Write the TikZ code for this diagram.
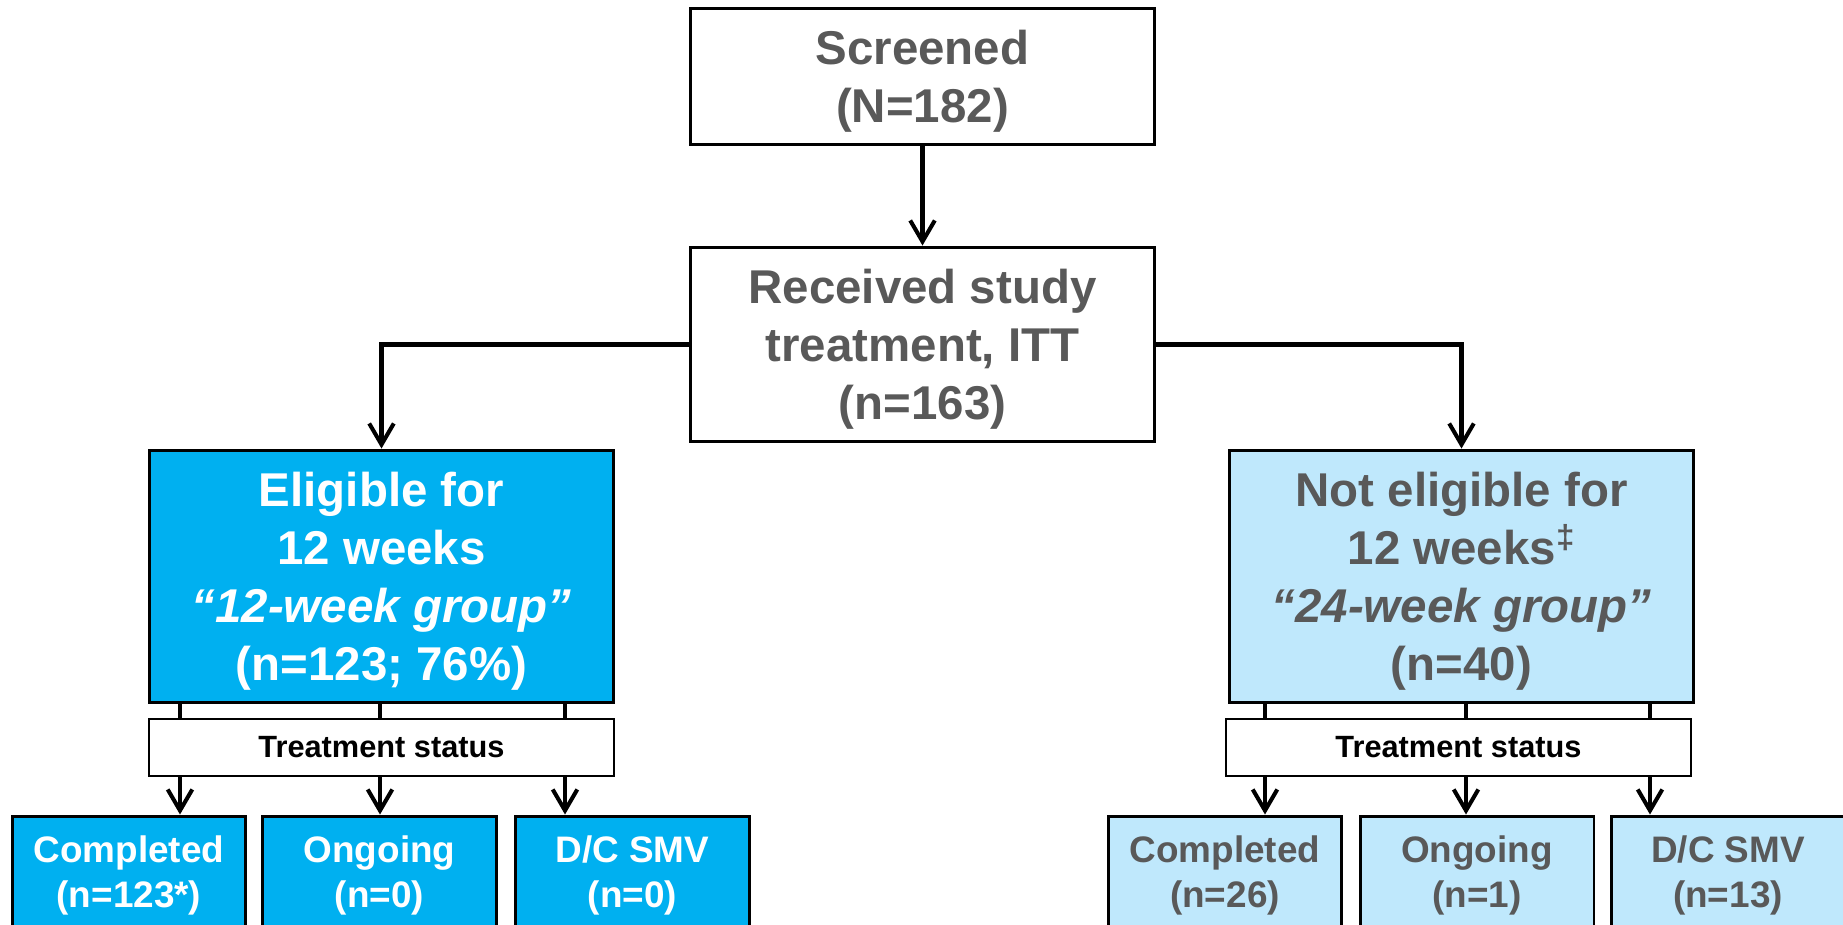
\documentclass[tikz,border=0pt]{standalone}
\usepackage{fontspec}
\setmainfont{Liberation Sans}
\usetikzlibrary{arrows.meta}
\definecolor{eligblue}{HTML}{00B0F0}
\definecolor{neligblue}{HTML}{BFE8FC}
\definecolor{txtgray}{HTML}{595959}
\tikzset{
	bigbox/.style={draw=black, line width=1.7pt, minimum width=9.3cm, align=center, inner sep=0pt, text depth=0pt, font=\fontsize{27}{33}\selectfont\bfseries},
	statbox/.style={draw=black, line width=0.85pt, fill=white, minimum width=9.3cm, minimum height=1.14cm, inner sep=0pt, text=black, font=\fontsize{17.5}{21}\selectfont\bfseries},
	endbox/.style={draw=black, line width=1.7pt, minimum width=4.68cm, minimum height=2.22cm, align=center, inner sep=0pt, text depth=0pt, font=\fontsize{21}{26}\selectfont\bfseries},
	arr/.style={line width=2.3pt, -{Straight Barb[length=12pt,width=14pt]}},
	stub/.style={line width=2.3pt},
}
\begin{document}
\begin{tikzpicture}[x=0.02cm, y=-0.02cm]
			%%%%% START %%%%%
			\useasboundingbox (0, 0) rectangle (1843, 924);
			
			\node[bigbox, minimum height=2.74cm, text=txtgray] (scr) at (922.5, 76.5) {Screened\\(N=182)};
			\node[bigbox, minimum height=3.9cm, text=txtgray] (recv) at (922.5, 344.5) {Received study\\treatment, ITT\\(n=163)};
			
			\node[bigbox, minimum height=5.06cm, fill=eligblue, text=white] (elig) at (381.5, 576.5) {Eligible for\\12 weeks\\\textit{“12-week group”}\\(n=123; 76\%)};
			\node[bigbox, minimum height=5.06cm, fill=neligblue, text=txtgray] (nelig) at (1461.5, 576.5) {Not eligible for\\12 weeks\textsuperscript{‡}\\\textit{“24-week group”}\\(n=40)};
			
			\node[statbox] (tsl) at (381.5, 747.5) {Treatment status};
			\node[statbox] (tsr) at (1458.5, 747.5) {Treatment status};
			
			\node[endbox, fill=eligblue, text=white] (lcomp) at (129, 871.5) {Completed\\(n=123*)};
			\node[endbox, fill=eligblue, text=white] (lgo) at (379.5, 871.5) {Ongoing\\(n=0)};
			\node[endbox, fill=eligblue, text=white] (ldc) at (632.5, 871.5) {D/C SMV\\(n=0)};
			\node[endbox, fill=neligblue, text=txtgray] (rcomp) at (1225, 871.5) {Completed\\(n=26)};
			\node[endbox, fill=neligblue, text=txtgray] (rgo) at (1477, 871.5) {Ongoing\\(n=1)};
			\node[endbox, fill=neligblue, text=txtgray] (rdc) at (1728, 871.5) {D/C SMV\\(n=13)};
			
			% x of the stubs
			\coordinate (l1) at (180, 0);
			\coordinate (l2) at (380, 0);
			\coordinate (l3) at (565, 0);
			\coordinate (r1) at (1265, 0);
			\coordinate (r2) at (1466, 0);
			\coordinate (r3) at (1650, 0);
			
			\draw[arr] (scr.south) -- (recv.north);
			\draw[arr] (recv.west) -| (elig.north);
			\draw[arr] (recv.east) -| (nelig.north);
			
			\foreach \c in {l1, l2, l3}
				\draw[stub] (elig.south -| \c) -- (tsl.north -| \c);
			\foreach \c in {r1, r2, r3}
				\draw[stub] (nelig.south -| \c) -- (tsr.north -| \c);
			
			\draw[arr] (tsl.south -| l1) -- (lcomp.north -| l1);
			\draw[arr] (tsl.south -| l2) -- (lgo.north -| l2);
			\draw[arr] (tsl.south -| l3) -- (ldc.north -| l3);
			\draw[arr] (tsr.south -| r1) -- (rcomp.north -| r1);
			\draw[arr] (tsr.south -| r2) -- (rgo.north -| r2);
			\draw[arr] (tsr.south -| r3) -- (rdc.north -| r3);
			
			%%%%% END %%%%%
\end{tikzpicture}
\end{document}
